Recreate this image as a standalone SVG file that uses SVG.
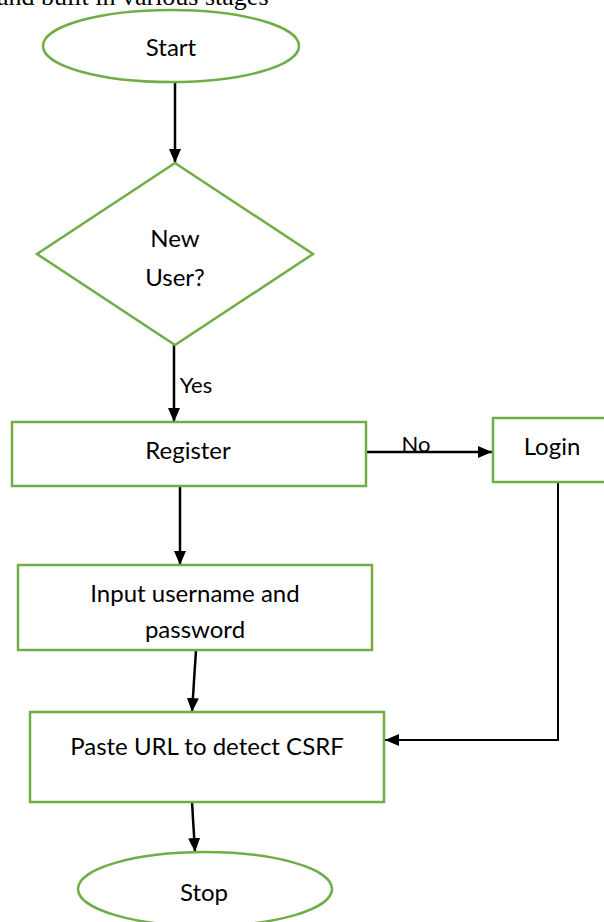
<svg xmlns="http://www.w3.org/2000/svg" width="604" height="922" viewBox="0 0 604 922">
<style>
  .shape { fill: #ffffff; stroke: #70AD47; stroke-width: 2.5; }
  .lbl { font-family: Lato, "Liberation Sans", sans-serif; font-size: 24px; fill: #000; text-anchor: middle; }
  .edge { stroke: #000; stroke-width: 2.5; fill: none; }
  .top { font-family: "Liberation Serif", serif; font-size: 26px; fill: #000; }
</style>
<defs>
  <marker id="arr" markerUnits="userSpaceOnUse" markerWidth="14" markerHeight="14" viewBox="0 0 14 14" refX="14" refY="7" orient="auto">
    <path d="M0,1 L14,7 L0,13 Z" fill="#000"/>
  </marker>
</defs>
<rect width="604" height="922" fill="#ffffff"/>
<text class="top" x="-3" y="5">and built in various stages</text>

<g id="connectors">
  <line class="edge" x1="175" y1="82" x2="175" y2="163" marker-end="url(#arr)"/>
  <line class="edge" x1="174" y1="345" x2="174" y2="422" marker-end="url(#arr)"/>
  <line class="edge" x1="367" y1="452" x2="492" y2="452" marker-end="url(#arr)"/>
  <line class="edge" x1="180" y1="486" x2="180" y2="565" marker-end="url(#arr)"/>
  <line class="edge" x1="196" y1="650" x2="192" y2="712" marker-end="url(#arr)"/>
  <polyline class="edge" style="stroke-width:2" points="558,482 558,740 385,740" marker-end="url(#arr)"/>
  <line class="edge" x1="192" y1="802" x2="195" y2="852" marker-end="url(#arr)"/>
  <text class="lbl" x="196" y="393" style="font-size:22px">Yes</text>
  <text class="lbl" x="416" y="452" style="font-size:22px">No</text>
</g>

<g id="start">
  <ellipse class="shape" cx="171" cy="46" rx="128" ry="36"/>
  <text class="lbl" x="171" y="56">Start</text>
</g>
<g id="newuser">
  <polygon class="shape" points="175,163 313,254 175,345 37,254"/>
  <text class="lbl" x="175" y="247">New</text>
  <text class="lbl" x="175" y="286">User?</text>
</g>
<g id="register">
  <rect class="shape" x="12" y="422" width="354" height="64"/>
  <text class="lbl" x="188" y="459">Register</text>
</g>
<g id="login">
  <rect class="shape" x="493" y="418" width="120" height="64"/>
  <text class="lbl" x="552" y="455">Login</text>
</g>
<g id="input">
  <rect class="shape" x="18" y="565" width="354" height="85"/>
  <text class="lbl" x="195" y="602">Input username and</text>
  <text class="lbl" x="195" y="638">password</text>
</g>
<g id="paste">
  <rect class="shape" x="30" y="712" width="354" height="90"/>
  <text class="lbl" x="207" y="755">Paste URL to detect CSRF</text>
</g>
<g id="stop">
  <ellipse class="shape" cx="205" cy="889" rx="127" ry="37"/>
  <text class="lbl" x="204" y="901">Stop</text>
</g>
</svg>
